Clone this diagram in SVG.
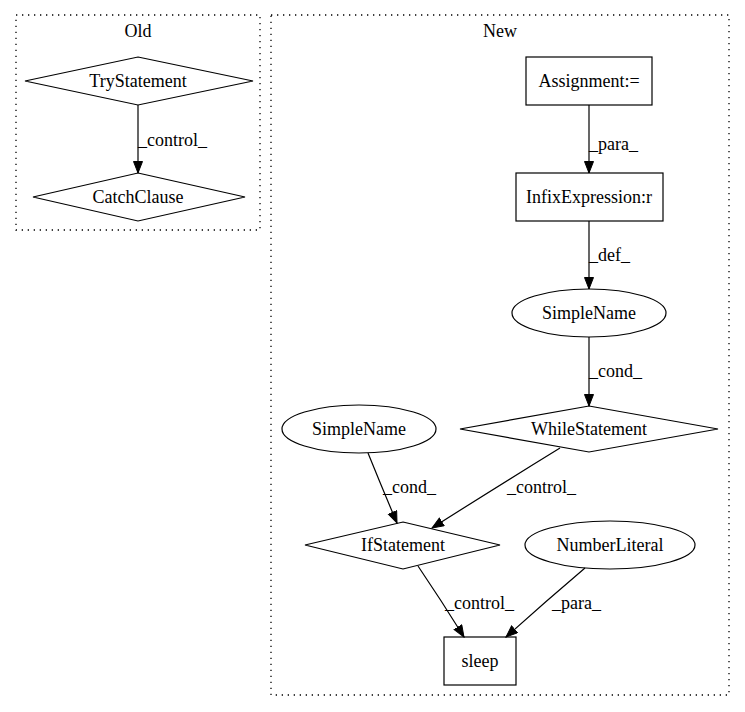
<svg xmlns="http://www.w3.org/2000/svg" width="745" height="712" viewBox="0 0 745 712">
<style>
text{font-family:"Liberation Serif","Times New Roman",serif;font-size:18px;fill:#000}
.c{text-anchor:middle}
.n{fill:none;stroke:#000;stroke-width:1.2}
.cl{fill:none;stroke:#000;stroke-width:1.3;stroke-dasharray:1.3,4.7}
.e{fill:none;stroke:#000;stroke-width:1.2;marker-end:url(#ah)}
</style>
<defs>
<marker id="ah" markerUnits="userSpaceOnUse" markerWidth="13" markerHeight="11" refX="12" refY="5" orient="auto">
<path d="M0.5,0.5 L12,5 L0.5,9.5 z" fill="#000" stroke="#000" stroke-width="1"/>
</marker>
</defs>
<rect width="745" height="712" fill="#fff"/>
<g id="cluster_old">
<rect class="cl" x="16" y="15" width="244" height="215"/>
<text class="c" x="138" y="37">Old</text>
</g>
<g id="cluster_new">
<rect class="cl" x="271" y="15" width="458" height="680"/>
<text class="c" x="500" y="37">New</text>
</g>
<g id="TryStatement">
<polygon class="n" points="138,57 253,81 138,105 25,81"/>
<text class="c" x="138" y="87">TryStatement</text>
</g>
<g id="CatchClause">
<polygon class="n" points="138,173 245,197 138,221 33,197"/>
<text class="c" x="138" y="203">CatchClause</text>
</g>
<g id="Assignment">
<rect class="n" x="526" y="57" width="126" height="48"/>
<text class="c" x="589" y="87">Assignment:=</text>
</g>
<g id="InfixExpression">
<rect class="n" x="516" y="173" width="147" height="48"/>
<text class="c" x="589" y="203">InfixExpression:r</text>
</g>
<g id="SimpleName1">
<ellipse class="n" cx="589" cy="313" rx="77" ry="24"/>
<text class="c" x="589" y="319">SimpleName</text>
</g>
<g id="WhileStatement">
<polygon class="n" points="589,406 718,429 589,452 460,429"/>
<text class="c" x="589" y="435">WhileStatement</text>
</g>
<g id="SimpleName2">
<ellipse class="n" cx="359" cy="429" rx="77" ry="24"/>
<text class="c" x="359" y="435">SimpleName</text>
</g>
<g id="IfStatement">
<polygon class="n" points="403,522 500,545 403,569 305,545"/>
<text class="c" x="403" y="551">IfStatement</text>
</g>
<g id="NumberLiteral">
<ellipse class="n" cx="610" cy="545" rx="85" ry="24"/>
<text class="c" x="610" y="551">NumberLiteral</text>
</g>
<g id="sleep">
<rect class="n" x="444" y="637" width="72" height="48"/>
<text class="c" x="480" y="667">sleep</text>
</g>
<g id="edges">
<line class="e" x1="138" y1="105" x2="138" y2="173"/>
<text x="138" y="146">_control_</text>
<line class="e" x1="589" y1="105" x2="589" y2="173"/>
<text x="589" y="150">_para_</text>
<line class="e" x1="589" y1="221" x2="589" y2="289"/>
<text x="589" y="261">_def_</text>
<line class="e" x1="589" y1="337" x2="589" y2="406"/>
<text x="589" y="377">_cond_</text>
<path class="e" d="M368,453 Q383,490 397,523"/>
<text x="383" y="493">_cond_</text>
<path class="e" d="M560,448 Q495,488 432,528"/>
<text x="507" y="493">_control_</text>
<path class="e" d="M418,566 Q441,600 464,637"/>
<text x="445" y="609">_control_</text>
<path class="e" d="M585,568 Q545,602 506,637"/>
<text x="552" y="609">_para_</text>
</g>
</svg>
